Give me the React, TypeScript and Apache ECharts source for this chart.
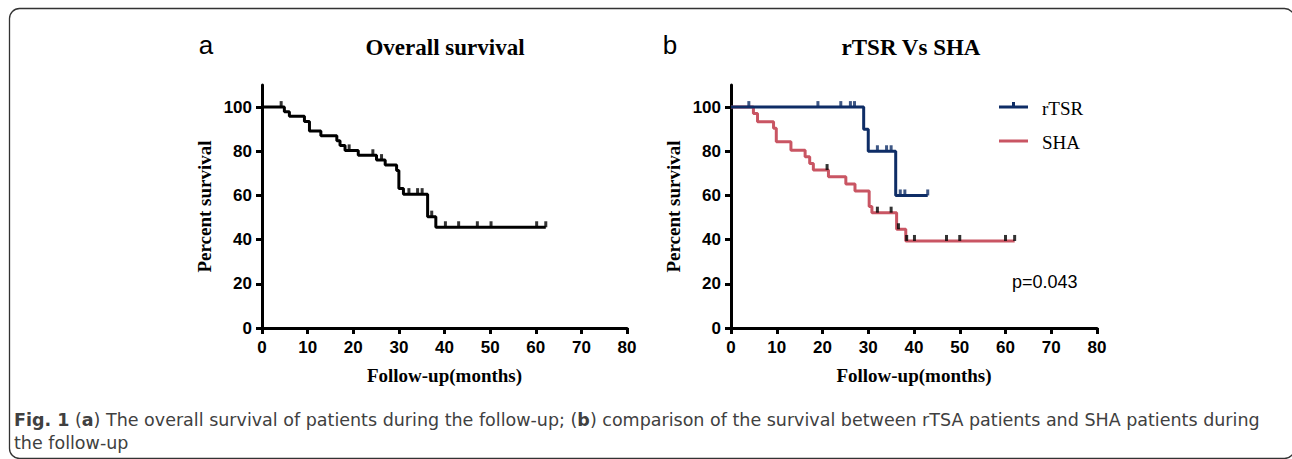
import React, { useEffect, useRef } from "react";
import * as echarts from "echarts";

// ---- data ----
const overallTimes = [0, 4.9, 6, 9.3, 10.4, 12.9, 16.4, 17.1, 18.2, 21.1, 25.1, 27, 29.5, 30, 31, 36.3, 38.1, 62.2];
const overallSurv = [100, 97.9, 95.8, 93.5, 89.2, 87, 84.8, 82.6, 80.4, 78.2, 76, 73.8, 71.3, 63.2, 60.6, 50.4, 45.6, 45.6];
const overallCensor = [4.2, 19.1, 24.3, 26.2, 32.2, 34.1, 35.1, 37.2, 40.2, 43.1, 47.2, 50.2, 60.2, 62.2];

const rtsrTimes = [0, 29, 30, 36, 43];
const rtsrSurv = [100, 90, 80, 60, 60];
const rtsrCensor = [3.9, 19, 24, 26.1, 27, 32, 34, 35, 37, 38, 43];

const shaTimes = [0, 4.9, 5.8, 9.3, 9.9, 13.1, 16.2, 17.2, 18, 21.3, 25.1, 27.1, 30.2, 30.8, 36.2, 38.2, 62];
const shaSurv = [100, 97.1, 93.4, 90.4, 84.3, 80.5, 77.5, 74.5, 71.5, 68.5, 65.2, 62, 55, 52.2, 44.7, 39.4, 39.4];
const shaCensor = [21, 32, 35, 36.6, 38.4, 40.1, 47.1, 50, 60, 62];

const xTicks = [0, 10, 20, 30, 40, 50, 60, 70, 80];
const yTicks = [0, 20, 40, 60, 80, 100];

const seriesNames = ["rTSR", "SHA"];
const titles = ["Overall survival", "rTSR Vs SHA"];
const captionLines = [
  "{b|Fig. 1} ({b|a}) The overall survival of patients during the follow-up; ({b|b}) comparison of the survival between rTSA patients and SHA patients during",
  "the follow-up",
];

const NAVY = "#0e2d66";
const ROSE = "#c95563";

function pairs(t: number[], s: number[]) {
  return t.map((v, i) => [v, s[i]]);
}
function survAt(t: number[], s: number[], x: number) {
  let v = s[0];
  for (let i = 0; i < t.length; i++) if (t[i] <= x) v = s[i];
  return v;
}
function censorPts(c: number[], t: number[], s: number[]) {
  return c.map((x) => [x, survAt(t, s, x)]);
}

const axisLabelBase = {
  color: "#000",
  fontFamily: "Liberation Sans, Arial, sans-serif",
  fontWeight: "bold" as const,
  fontSize: 17,
};

function makeX(gi: number) {
  return {
    type: "value" as const,
    gridIndex: gi,
    min: 0,
    max: 80,
    interval: 10,
    axisLine: { show: true, onZero: false, lineStyle: { color: "#000", width: 3 } },
    axisTick: { show: true, length: 6, lineStyle: { color: "#000", width: 3 }, customValues: xTicks },
    axisLabel: { ...axisLabelBase, margin: 11, customValues: xTicks },
    splitLine: { show: false },
    name: "Follow-up(months)",
    nameLocation: "middle" as const,
    nameGap: 38,
    nameTextStyle: { color: "#000", fontFamily: "Liberation Serif, Times New Roman, serif", fontWeight: "bold" as const, fontSize: 19 },
  };
}
function makeY(gi: number) {
  return {
    type: "value" as const,
    gridIndex: gi,
    min: 0,
    max: 110,
    interval: 20,
    axisLine: { show: true, onZero: false, lineStyle: { color: "#000", width: 3 } },
    axisTick: { show: true, length: 6, lineStyle: { color: "#000", width: 3 }, customValues: yTicks },
    axisLabel: { ...axisLabelBase, margin: 10, customValues: yTicks },
    splitLine: { show: false },
    name: "Percent survival",
    nameLocation: "middle" as const,
    nameGap: 48,
    nameTextStyle: { color: "#000", fontFamily: "Liberation Serif, Times New Roman, serif", fontWeight: "bold" as const, fontSize: 19 },
  };
}

const censorSym = { symbol: "rect", symbolSize: [3, 6], symbolOffset: [0, -3] };

export default function App() {
  const ref = useRef<HTMLDivElement>(null);
  useEffect(() => {
    if (!ref.current) return;
    const chart = echarts.init(ref.current, undefined, { renderer: "svg" });
    const serif = "Liberation Serif, Times New Roman, serif";
    const capFont = "DejaVu Sans, sans-serif";
    const capRich = { b: { fontWeight: "bold", fontFamily: capFont, fontSize: 17.5, fill: "#404040", lineHeight: 20 } };
    chart.setOption({
      animation: false,
      backgroundColor: "#fff",
      grid: [
        { left: 262, top: 85, width: 365, height: 243 },
        { left: 731, top: 85, width: 366, height: 243 },
      ],
      xAxis: [makeX(0), makeX(1)],
      yAxis: [makeY(0), makeY(1)],
      series: [
        {
          type: "line", name: "Overall", xAxisIndex: 0, yAxisIndex: 0, step: "end", showSymbol: false,
          data: pairs(overallTimes, overallSurv), lineStyle: { color: "#000", width: 3 }, z: 3,
        },
        {
          type: "scatter", xAxisIndex: 0, yAxisIndex: 0, ...censorSym,
          data: censorPts(overallCensor, overallTimes, overallSurv), itemStyle: { color: "#000" }, z: 4,
        },
        {
          type: "line", name: seriesNames[1], xAxisIndex: 1, yAxisIndex: 1, step: "end", showSymbol: false,
          data: pairs(shaTimes, shaSurv), lineStyle: { color: ROSE, width: 3 }, z: 3,
        },
        {
          type: "scatter", xAxisIndex: 1, yAxisIndex: 1, ...censorSym,
          data: censorPts(shaCensor, shaTimes, shaSurv), itemStyle: { color: "#000" }, z: 4,
        },
        {
          type: "line", name: seriesNames[0], xAxisIndex: 1, yAxisIndex: 1, step: "end", showSymbol: false,
          data: pairs(rtsrTimes, rtsrSurv), lineStyle: { color: NAVY, width: 3 }, z: 5,
        },
        {
          type: "scatter", xAxisIndex: 1, yAxisIndex: 1, ...censorSym,
          data: censorPts(rtsrCensor, rtsrTimes, rtsrSurv), itemStyle: { color: NAVY }, z: 6,
        },
      ],
      graphic: [
        {
          type: "rect", z: -1, silent: true,
          shape: { x: 9.5, y: 8.5, width: 1285, height: 450, r: 10 },
          style: { fill: "none", stroke: "#333", lineWidth: 1.3 },
        },
        { type: "text", x: 445, y: 47, style: { text: titles[0], font: `bold 23px ${serif}`, fill: "#000", align: "center", verticalAlign: "middle" } },
        { type: "text", x: 911, y: 47, style: { text: titles[1], font: `bold 23px ${serif}`, fill: "#000", align: "center", verticalAlign: "middle" } },
        { type: "text", x: 206, y: 45, style: { text: "a", font: `26px Liberation Sans, Arial, sans-serif`, fill: "#000", align: "center", verticalAlign: "middle" } },
        { type: "text", x: 670, y: 45, style: { text: "b", font: `26px Liberation Sans, Arial, sans-serif`, fill: "#000", align: "center", verticalAlign: "middle" } },
        // legend
        { type: "line", shape: { x1: 999, y1: 107, x2: 1028, y2: 107 }, style: { stroke: NAVY, lineWidth: 3 } },
        { type: "line", shape: { x1: 1013.5, y1: 102, x2: 1013.5, y2: 107 }, style: { stroke: NAVY, lineWidth: 3 } },
        { type: "text", x: 1042, y: 108, style: { text: seriesNames[0], font: `19px ${serif}`, fill: "#000", verticalAlign: "middle" } },
        { type: "line", shape: { x1: 999, y1: 141, x2: 1028, y2: 141 }, style: { stroke: ROSE, lineWidth: 3 } },
        { type: "text", x: 1042, y: 142, style: { text: seriesNames[1], font: `19px ${serif}`, fill: "#000", verticalAlign: "middle" } },
        { type: "text", x: 1012, y: 282, style: { text: "p=0.043", font: `18px Liberation Sans, Arial, sans-serif`, fill: "#000", verticalAlign: "middle" } },
        // caption
        {
          type: "text", x: 14, y: 420,
          style: { text: captionLines[0], font: `17.5px ${capFont}`, fill: "#404040", lineHeight: 20, verticalAlign: "middle", rich: capRich },
        },
        {
          type: "text", x: 14, y: 443,
          style: { text: captionLines[1], font: `17.5px ${capFont}`, fill: "#404040", lineHeight: 20, verticalAlign: "middle", rich: capRich },
        },
      ],
    });
    return () => chart.dispose();
  }, []);
  return (
    <div
      ref={ref}
      style={{ position: "fixed", left: 0, top: 0, width: 1292, height: 459, background: "#fff" }}
    />
  );
}
